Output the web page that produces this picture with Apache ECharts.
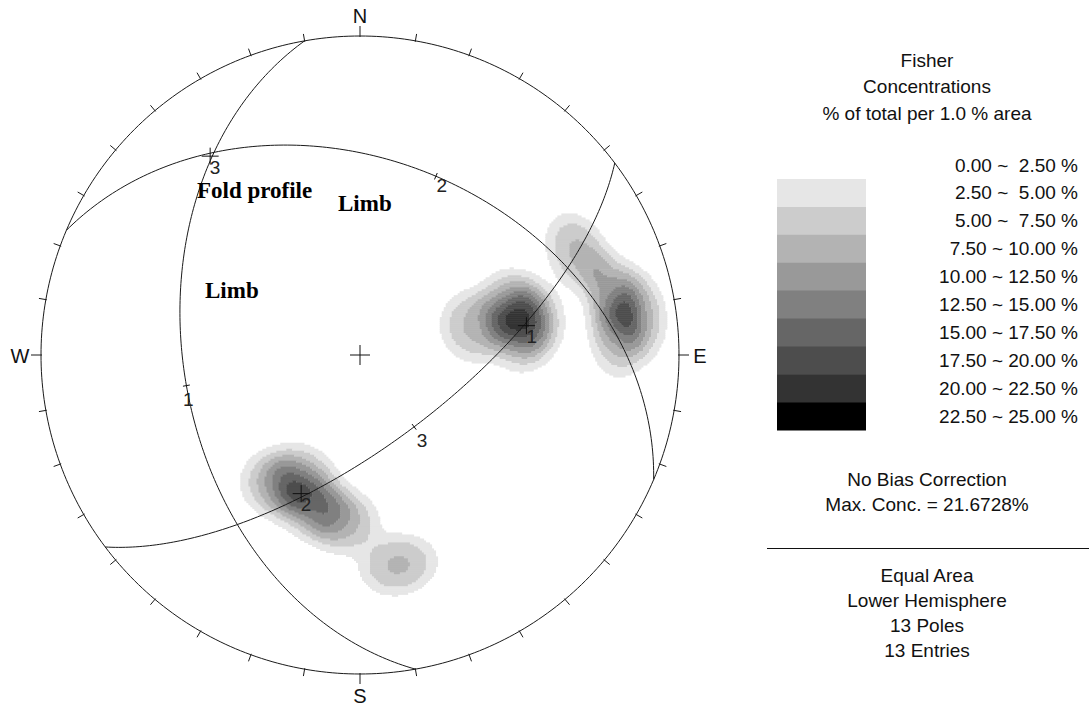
<!DOCTYPE html>
<html><head><meta charset="utf-8">
<script src="https://cdn.jsdelivr.net/npm/echarts@6/dist/echarts.min.js"></script>
<style>html,body{margin:0;padding:0;background:#fff}#c{width:1091px;height:709px}</style>
</head><body><div id="c"></div>
<script>
// ---- data ----
// poles (trend, plunge in degrees), lower hemisphere
const poleTrend  = [72.1, 77.9, 82.5, 75.7, 76.9, 81.7, 85.4, 64.7, 212.7, 206.0, 196.9, 186.2, 169.7];
const polePlunge = [48.5, 44.1, 48.1, 59.8, 19.4, 12.3, 20.0, 25.4, 49.6, 54.7, 49.0, 46.3, 33.5];
// planes (dip direction, dip)
const planeIds    = ['1', '2', '3'];
const planeDipDir = [260, 23, 143];
const planeDip    = [44, 39, 67];
// contour intervals (% of total per 1.0 % area)
const binEdges  = [2.5, 5, 7.5, 10, 12.5, 15, 17.5, 20, 22.5, 25];
const binColors = ['#e6e6e6', '#cccccc', '#b3b3b3', '#999999', '#808080', '#666666', '#4d4d4d', '#333333', '#000000'];
const legendLabels = ['0.00 ~  2.50 %', '2.50 ~  5.00 %', '5.00 ~  7.50 %', '7.50 ~ 10.00 %', '10.00 ~ 12.50 %',
  '12.50 ~ 15.00 %', '15.00 ~ 17.50 %', '17.50 ~ 20.00 %', '20.00 ~ 22.50 %', '22.50 ~ 25.00 %'];
const compassNames = ['N', 'E', 'S', 'W'];
const compassAz    = [0, 90, 180, 270];
const tickAz = [0,10,20,30,40,50,60,70,80,90,100,110,120,130,140,150,160,170,180,190,200,210,220,230,240,250,260,270,280,290,300,310,320,330,340,350];
const titleLines = ['Fisher', 'Concentrations', '% of total per 1.0 % area'];
const maxConc = '21.6728%';
const annotations = ['Fold profile', 'Limb', 'Limb'];

// ---- stereonet math ----
const D2R = Math.PI / 180;
function lineVec(t, p) { t *= D2R; p *= D2R; return [Math.cos(p) * Math.cos(t), Math.cos(p) * Math.sin(t), Math.sin(p)]; }
function project(v) { // [n,e,d] -> equal-area [x(east), y(north)]
  let n = v[0], e = v[1], d = v[2];
  if (d < -1e-9) { n = -n; e = -e; d = -d; }
  const phi = Math.acos(Math.max(-1, Math.min(1, d)));
  const r = Math.SQRT2 * Math.sin(phi / 2);
  const h = Math.hypot(n, e);
  if (h < 1e-12) return [0, 0];
  return [r * e / h, r * n / h];
}
function unproject(x, y) {
  const r = Math.hypot(x, y);
  const phi = 2 * Math.asin(Math.min(1, r / Math.SQRT2));
  const T = Math.atan2(x, y);
  return [Math.sin(phi) * Math.cos(T), Math.sin(phi) * Math.sin(T), Math.cos(phi)];
}
function greatCircle(dd, dip) {
  const s = lineVec(dd - 90, 0), dv = lineVec(dd, dip), pts = [];
  for (let k = 0; k <= 180; k++) {
    const t = k * D2R;
    pts.push(project([0, 1, 2].map(c => Math.cos(t) * s[c] + Math.sin(t) * dv[c])));
  }
  return pts;
}

// ---- density grid (kernel counting of the poles) ----
const KERNEL_W = 0.148, KERNEL_P = 3;
const total = poleTrend.length;
const poleVecs = poleTrend.map((t, i) => lineVec(t, polePlunge[i]));
const NC = 320, CELL = 2 / NC;
const runs = [];
for (let j = 0; j < NC; j++) {
  const y = 1 - (j + 0.5) * CELL;
  let cur = -1, start = 0;
  for (let i = 0; i <= NC; i++) {
    let b = -1;
    if (i < NC) {
      const x = -1 + (i + 0.5) * CELL;
      if (x * x + y * y < 1) {
        const v = unproject(x, y);
        let s = 0;
        for (const p of poleVecs) {
          const d = Math.abs(v[0] * p[0] + v[1] * p[1] + v[2] * p[2]);
          const th = Math.acos(Math.min(1, d));
          s += Math.exp(-Math.pow(th / KERNEL_W, KERNEL_P));
        }
        const val = 100 / total * s;
        for (let k = binEdges.length - 2; k >= 0; k--) { if (val >= binEdges[k]) { b = k; break; } }
      }
    }
    if (b !== cur) {
      if (cur >= 0) runs.push([-1 + start * CELL, -1 + i * CELL, y, cur]);
      cur = b; start = i;
    }
  }
}

const circlePts = [];
for (let a = 0; a <= 360; a++) circlePts.push([Math.sin(a * D2R), Math.cos(a * D2R)]);

const poleMarks = planeIds.map((id, i) => {
  const p = project(lineVec(planeDipDir[i] + 180, 90 - planeDip[i]));
  return [p[0], p[1], i];
});
const planeMarks = planeIds.map((id, i) => {
  const p = project(lineVec(planeDipDir[i], planeDip[i]));
  return [p[0], p[1], i];
});
const planeLabelOff = [[2, 14], [6, 9], [8, 14]];

const FONT = '"Liberation Sans", Arial, sans-serif';
const LINE = '#1a1a1a';

const series = [];
series.push({
  type: 'custom', coordinateSystem: 'cartesian2d', silent: true, z: 1,
  data: runs,
  renderItem: function (params, api) {
    const x0 = api.value(0), x1 = api.value(1), y = api.value(2), b = api.value(3);
    const p0 = api.coord([x0, y + CELL / 2]), p1 = api.coord([x1, y - CELL / 2]);
    return { type: 'rect', shape: { x: p0[0], y: p0[1], width: p1[0] - p0[0] + 0.3, height: p1[1] - p0[1] + 0.6 },
      style: { fill: binColors[b] } };
  }
});
planeIds.forEach((id, i) => {
  series.push({ type: 'line', data: greatCircle(planeDipDir[i], planeDip[i]), showSymbol: false, symbol: 'none',
    silent: true, clip: false, z: 3, lineStyle: { color: LINE, width: 1 } });
});
series.push({ type: 'line', data: circlePts, showSymbol: false, symbol: 'none', silent: true, clip: false, z: 3,
  lineStyle: { color: LINE, width: 1 } });
// primitive ticks
series.push({
  type: 'custom', coordinateSystem: 'cartesian2d', silent: true, z: 4,
  data: tickAz.map(a => [a, compassAz.indexOf(a) >= 0 ? 1 : 0]),
  renderItem: function (params, api) {
    const az = api.value(0) * D2R, card = api.value(1);
    const c = api.coord([0, 0]), e = api.coord([1, 0]), R = e[0] - c[0];
    const ux = Math.sin(az), uy = -Math.cos(az), out = card ? 10 : 7;
    return { type: 'line', shape: { x1: c[0] + ux * (R - 1), y1: c[1] + uy * (R - 1), x2: c[0] + ux * (R + out), y2: c[1] + uy * (R + out) },
      style: { stroke: LINE, lineWidth: 1 } };
  }
});
// compass labels
series.push({
  type: 'custom', coordinateSystem: 'cartesian2d', silent: true, z: 4,
  data: compassAz.map((a, i) => [a, i]),
  renderItem: function (params, api) {
    const az = api.value(0) * D2R, i = api.value(1);
    const c = api.coord([0, 0]), e = api.coord([1, 0]), R = e[0] - c[0] + 21;
    return { type: 'text', style: { text: compassNames[i], x: c[0] + Math.sin(az) * R, y: c[1] - Math.cos(az) * R + 1,
      fill: '#111', font: '20px ' + FONT, align: 'center', verticalAlign: 'middle' } };
  }
});
// center cross + pole crosses
series.push({
  type: 'custom', coordinateSystem: 'cartesian2d', silent: true, z: 5,
  data: [[0, 0, -1]].concat(poleMarks),
  renderItem: function (params, api) {
    const p = api.coord([api.value(0), api.value(1)]), i = api.value(2), h = i < 0 ? 10 : 8.5;
    const ch = [
      { type: 'line', shape: { x1: p[0] - h, y1: p[1], x2: p[0] + h, y2: p[1] }, style: { stroke: '#111', lineWidth: 1 } },
      { type: 'line', shape: { x1: p[0], y1: p[1] - h, x2: p[0], y2: p[1] + h }, style: { stroke: '#111', lineWidth: 1 } }
    ];
    if (i >= 0) ch.push({ type: 'text', style: { text: planeIds[i], x: p[0] + 5, y: p[1] + 11, fill: '#222',
      font: '19px ' + FONT, align: 'center', verticalAlign: 'middle' } });
    return { type: 'group', children: ch };
  }
});
// plane label ticks
series.push({
  type: 'custom', coordinateSystem: 'cartesian2d', silent: true, z: 5,
  data: planeMarks,
  renderItem: function (params, api) {
    const p = api.coord([api.value(0), api.value(1)]), c = api.coord([0, 0]), i = api.value(2);
    const dx = p[0] - c[0], dy = p[1] - c[1], L = Math.hypot(dx, dy) || 1, ux = dx / L, uy = dy / L;
    return { type: 'group', children: [
      { type: 'line', shape: { x1: p[0] - ux * 3.5, y1: p[1] - uy * 3.5, x2: p[0] + ux * 3.5, y2: p[1] + uy * 3.5 }, style: { stroke: '#111', lineWidth: 1 } },
      { type: 'text', style: { text: planeIds[i], x: p[0] + planeLabelOff[i][0], y: p[1] + planeLabelOff[i][1], fill: '#222',
        font: '19px ' + FONT, align: 'center', verticalAlign: 'middle' } }
    ] };
  }
});

// ---- right panel graphics ----
const graphic = [];
const TX = 927;
titleLines.forEach((t, i) => graphic.push({ type: 'text', x: TX, y: 60 + i * 26.5,
  style: { text: t, font: '19px ' + FONT, fill: '#111', align: 'center', verticalAlign: 'middle' } }));
binColors.forEach((col, i) => graphic.push({ type: 'rect', shape: { x: 777, y: 179 + i * 27.9, width: 89, height: 28.4 },
  style: { fill: col } }));
legendLabels.forEach((t, i) => graphic.push({ type: 'text', x: 1078, y: 165 + i * 27.9,
  style: { text: t, font: '19px ' + FONT, fill: '#111', align: 'right', verticalAlign: 'middle' } }));
['No Bias Correction', 'Max. Conc. = ' + maxConc].forEach((t, i) => graphic.push({ type: 'text', x: TX, y: 479 + i * 25.5,
  style: { text: t, font: '19px ' + FONT, fill: '#111', align: 'center', verticalAlign: 'middle' } }));
graphic.push({ type: 'line', shape: { x1: 767, y1: 548.5, x2: 1089, y2: 548.5 }, style: { stroke: '#111', lineWidth: 1 } });
['Equal Area', 'Lower Hemisphere', total + ' Poles', total + ' Entries'].forEach((t, i) => graphic.push({ type: 'text', x: TX, y: 575 + i * 25.3,
  style: { text: t, font: '19px ' + FONT, fill: '#111', align: 'center', verticalAlign: 'middle' } }));
// annotations
const SERIF = 'bold 23px "Liberation Serif", "Times New Roman", serif';
[[197, 190.5], [338, 203.5], [205, 290.5]].forEach((pos, i) => graphic.push({ type: 'text', x: pos[0], y: pos[1], z: 10,
  style: { text: annotations[i], font: SERIF, fill: '#000', align: 'left', verticalAlign: 'middle' } }));

const chart = echarts.init(document.getElementById('c'), null, { renderer: 'svg', width: 1091, height: 709 });
chart.setOption({
  animation: false,
  backgroundColor: '#ffffff',
  grid: { left: 41, top: 36, width: 638, height: 638, containLabel: false },
  xAxis: { type: 'value', min: -1, max: 1, show: false },
  yAxis: { type: 'value', min: -1, max: 1, show: false },
  series: series,
  graphic: graphic
});
</script></body></html>
